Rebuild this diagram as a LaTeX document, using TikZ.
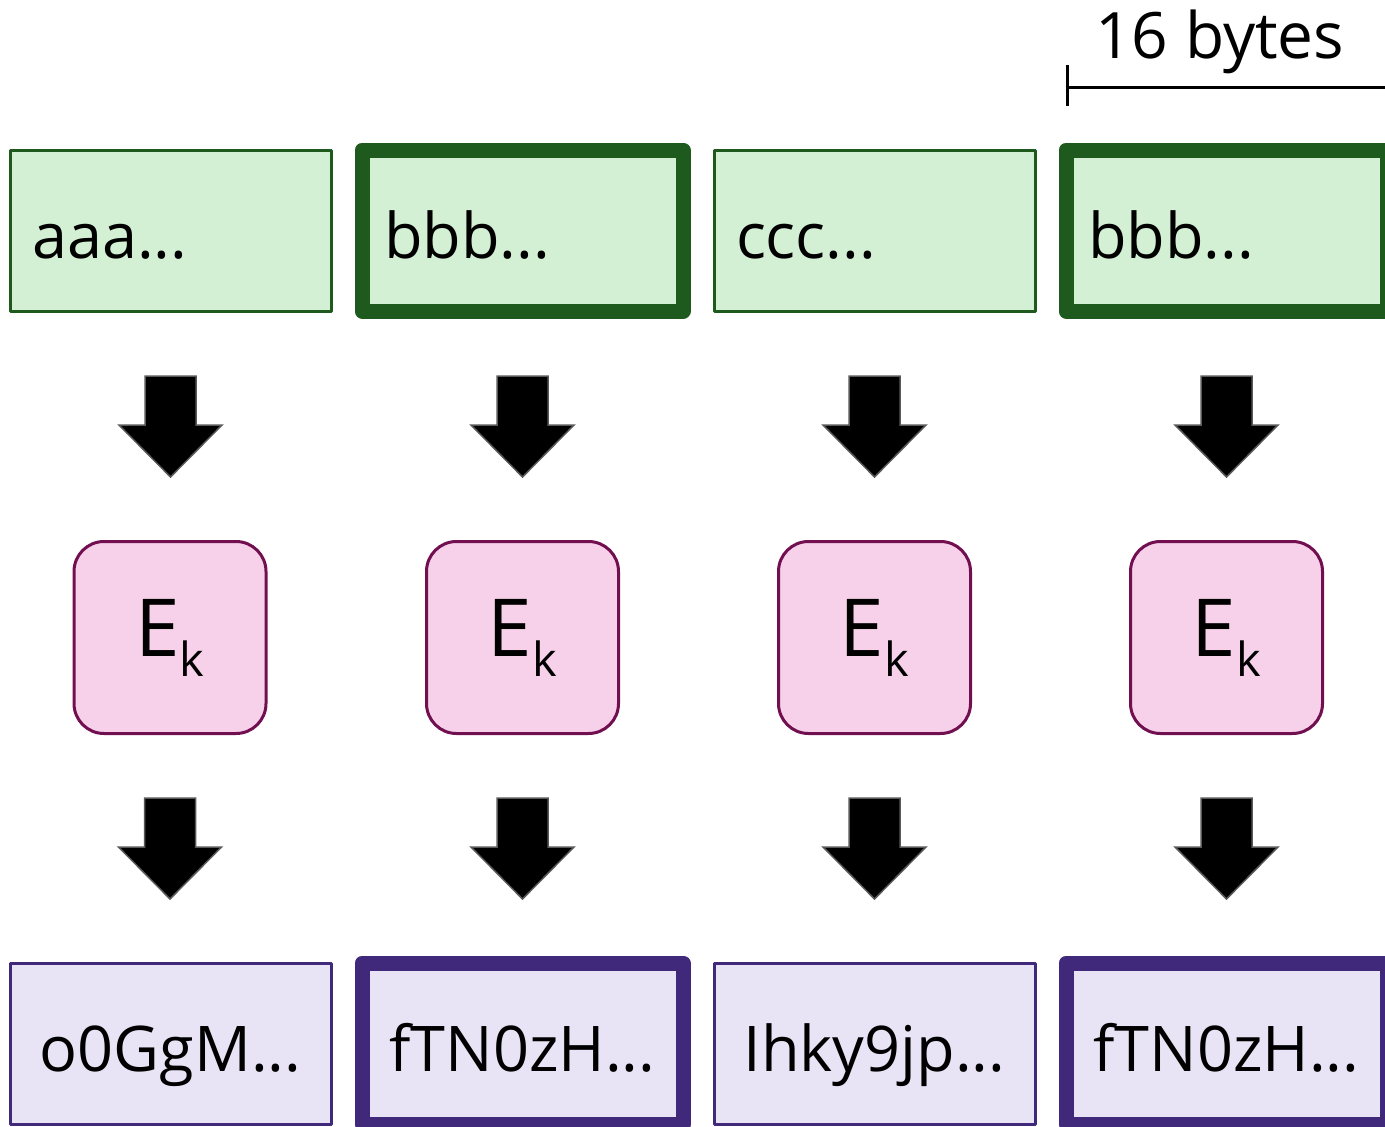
\documentclass[tikz,border=0pt]{standalone}
\usepackage{fontspec}
\setmainfont{Open Sans}

\definecolor{ptfill}{HTML}{D4F0D4}
\definecolor{ptline}{HTML}{1E5A1E}
\definecolor{ekfill}{HTML}{F7D1EA}
\definecolor{ekline}{HTML}{720F50}
\definecolor{ctfill}{HTML}{E8E4F5}
\definecolor{ctline}{HTML}{40297A}

\tikzset{
  block/.style={rectangle, minimum width=321pt, minimum height=161pt,
    inner xsep=22pt, outer sep=0pt, text height=55pt, text depth=0pt,
    font=\fontsize{63}{63}\selectfont, line join=round},
  plain/.style={line width=3pt},
  repeated/.style={line width=15pt},
  ptblock/.style={block, draw=ptline, fill=ptfill, text width=277pt, align=left},
  ctblock/.style={block, draw=ctline, fill=ctfill, text width=277pt, align=center},
  cipher/.style={rectangle, draw=ekline, fill=ekfill, line width=3pt,
    rounded corners=30pt, minimum size=192pt, inner sep=0pt, outer sep=0pt},
  pics/blockarrow/.style={code={
    \filldraw[fill=black, draw=black!65, line width=1.5pt]
      (-25.5,0) -- (25.5,0) -- (25.5,49) -- (51.5,49) -- (0,101)
      -- (-51.5,49) -- (-25.5,49) -- cycle;
  }}
}

\newcommand{\Ek}{\fontsize{80}{80}\selectfont E\raisebox{-20pt}{\fontsize{47}{47}\selectfont k}}

\begin{document}
\begin{tikzpicture}[x=1pt, y=-1pt]

\clip (0,0) rectangle (1385,1127);

% block size
\draw [line width=3pt] (1067,65) -- (1067,106);
\draw [line width=3pt] (1067,87) -- (1390,87);
\node [anchor=base west, inner sep=0pt, font=\fontsize{64}{64}\selectfont] (size) at (1095,58) {16 bytes};

% plaintext blocks
\node [ptblock, plain]    (pt1) at (170.5,230.5) {aaa...};
\node [ptblock, repeated] (pt2) at (522.5,230.5) {bbb...};
\node [ptblock, plain]    (pt3) at (874.5,230.5) {ccc...};
\node [ptblock, repeated] (pt4) at (1226.5,230.5) {bbb...};

% block cipher
\node [cipher] (ek1) at (170,637.5) {\Ek};
\node [cipher] (ek2) at (522.5,637.5) {\Ek};
\node [cipher] (ek3) at (874.5,637.5) {\Ek};
\node [cipher] (ek4) at (1226.5,637.5) {\Ek};

% ciphertext blocks
\node [ctblock, plain]    (ct1) at (170.5,1043.5) {o0GgM...};
\node [ctblock, repeated] (ct2) at (522.5,1043.5) {fTN0zH...};
\node [ctblock, plain]    (ct3) at (874.5,1043.5) {Ihky9jp...};
\node [ctblock, repeated] (ct4) at (1226.5,1043.5) {fTN0zH...};

% arrows
\pic at ([yshift=-65pt]pt1.south) {blockarrow};
\pic at ([yshift=-65pt]pt2.south) {blockarrow};
\pic at ([yshift=-65pt]pt3.south) {blockarrow};
\pic at ([yshift=-65pt]pt4.south) {blockarrow};
\pic at ([yshift=-64.5pt]ek1.south) {blockarrow};
\pic at ([yshift=-64.5pt]ek2.south) {blockarrow};
\pic at ([yshift=-64.5pt]ek3.south) {blockarrow};
\pic at ([yshift=-64.5pt]ek4.south) {blockarrow};

\end{tikzpicture}
\end{document}
